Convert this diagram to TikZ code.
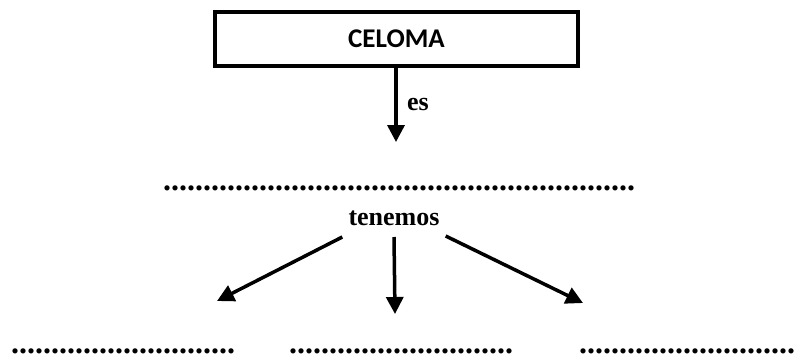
\documentclass[tikz,border=0pt]{standalone}
\usepackage{fontspec}
\setmainfont{Liberation Serif}
\newfontfamily\titulofont{Carlito}
\usetikzlibrary{arrows.meta}
\usetikzlibrary{positioning}
\tikzstyle{caja} = [draw, line width=3.5pt, minimum width=363pt, minimum height=54pt, inner sep=0pt, font=\titulofont\bfseries\fontsize{27}{30}\selectfont]
\tikzstyle{flecha} = [draw, line width=3.5pt, -{Triangle[length=17pt,width=17pt]}]
\tikzstyle{etiqueta} = [font=\bfseries\fontsize{26}{30}\selectfont]
\tikzstyle{puntos} = [inner sep=0pt, font=\bfseries\fontsize{32}{34}\selectfont]
\newcommand{\fila}[1]{\foreach \i in {1,...,#1}{.}}

\begin{document}
\begin{tikzpicture}[x=1pt,y=-1pt]
    \useasboundingbox (0,0) rectangle (798,359);
    % la caja de arriba
    \node[caja] (celoma) at (396.5,39) {CELOMA};
    \coordinate (p1) at (396,142);
    \path[flecha] (celoma.south -| p1) -- node[etiqueta, right=6pt] (es) {es} (p1);

    % linea de puntos y el conector
    \node[puntos, anchor=base west] (vacio) at (163,190) {\fila{59}};
    \node[etiqueta, anchor=base, inner xsep=6pt, inner ysep=0pt] (tenemos) at (394,225) {tenemos};
    \coordinate (tenemos sw) at ([yshift=-12pt]tenemos.base west);
    \coordinate (tenemos s) at ([yshift=-12pt]tenemos.base);
    \coordinate (tenemos se) at ([yshift=-11pt]tenemos.base east);

    % las tres flechas de abajo
    \coordinate (qA) at (217,301);
    \coordinate (qB) at (395,314);
    \coordinate (qC) at (583,303);
    \foreach \source/\dest in {tenemos sw/qA, tenemos s/qB, tenemos se/qC}
        \path[flecha] (\source) -- (\dest);

    % las tres lineas de puntos
    \foreach \pos/\name/\n in {{(11,353)/vacioA/28}, {(289,353)/vacioB/28}, {(579,353)/vacioC/27}}
        \node[puntos, anchor=base west] (\name) at \pos {\fila{\n}};
\end{tikzpicture}
\end{document}
